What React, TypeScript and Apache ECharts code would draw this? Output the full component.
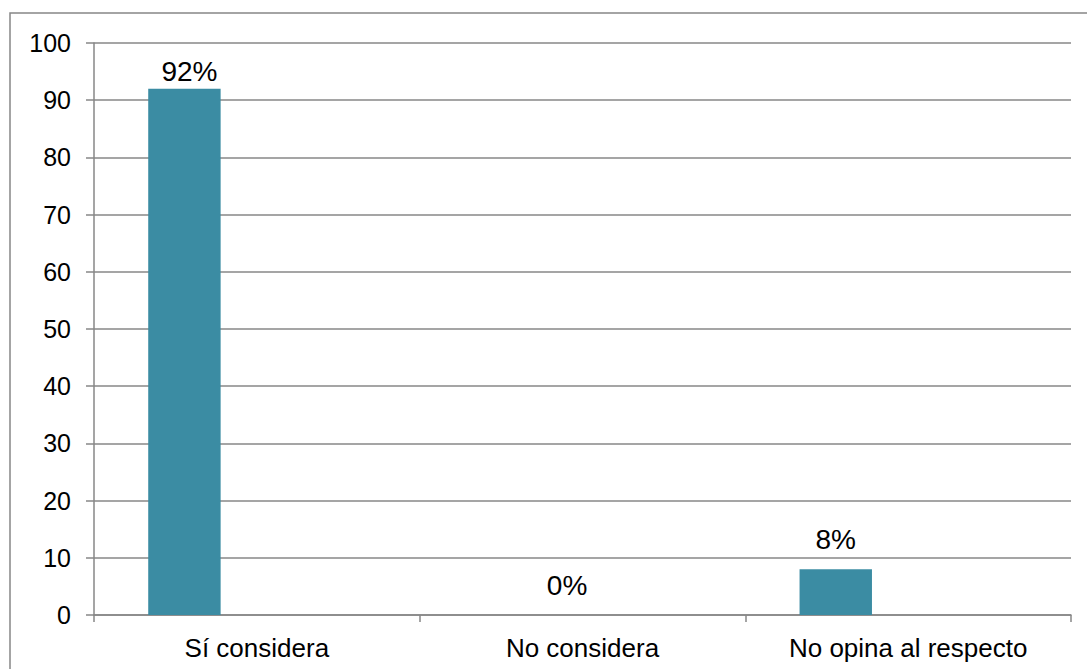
import React, { useEffect, useRef } from "react";
import * as echarts from "echarts";

const categories = ["Sí considera", "No considera", "No opina al respecto"];
const serie1 = [92, 0, 8];
const serie2: (number | null)[] = [null, null, null];
const serie3: (number | null)[] = [null, null, null];
const yTicks = { min: 0, max: 100, interval: 10 };

const FONT = "Liberation Sans, Arial, sans-serif";
const GRAY = "#878787";
const BAR = "#3B8CA3";

export default function App() {
  const ref = useRef<HTMLDivElement>(null);
  useEffect(() => {
    if (!ref.current) return;
    const chart = echarts.init(ref.current, null, { renderer: "svg" });
    const labelStyle = {
      show: true,
      position: "top" as const,
      distance: 3,
      formatter: "{c}%",
      fontSize: 28,
      fontFamily: FONT,
      color: "#000",
    };
    const labelOffsets = [
      [5, 0],
      [57, -13],
      [0, -13],
    ];
    chart.setOption({
      animation: false,
      backgroundColor: "#fff",
      graphic: [
        {
          type: "rect",
          shape: { x: 10, y: 13, width: 1200, height: 800 },
          style: { fill: "none", stroke: GRAY, lineWidth: 1.5 },
          silent: true,
        },
      ],
      grid: { left: 94, top: 43, right: 16, bottom: 54 },
      xAxis: {
        type: "category",
        data: categories,
        axisLine: { show: true, lineStyle: { color: GRAY, width: 1.5 } },
        axisTick: { show: true, length: 7, lineStyle: { color: GRAY, width: 1.5 } },
        axisLabel: { margin: 20, fontSize: 26, fontFamily: FONT, color: "#000" },
        splitLine: { show: false },
      },
      yAxis: {
        type: "value",
        min: yTicks.min,
        max: yTicks.max,
        interval: yTicks.interval,
        axisLine: { show: true, lineStyle: { color: GRAY, width: 1.5 } },
        axisTick: { show: true, length: 8, lineStyle: { color: GRAY, width: 1.5 } },
        axisLabel: { margin: 23, fontSize: 25, fontFamily: FONT, color: "#000" },
        splitLine: { show: true, lineStyle: { color: GRAY, width: 1.5 } },
      },
      series: [
        {
          name: "Serie 1",
          type: "bar",
          barGap: "0%",
          barCategoryGap: "33.3%",
          itemStyle: { color: BAR },
          label: labelStyle,
          data: serie1.map((v, i) => ({
            value: v,
            label: { ...labelStyle, offset: labelOffsets[i] },
          })),
        },
        {
          name: "Serie 2",
          type: "bar",
          barGap: "0%",
          barCategoryGap: "33.3%",
          itemStyle: { color: "#C0504D" },
          data: serie2,
        },
        {
          name: "Serie 3",
          type: "bar",
          barGap: "0%",
          barCategoryGap: "33.3%",
          itemStyle: { color: "#9BBB59" },
          data: serie3,
        },
      ],
    });
    return () => chart.dispose();
  }, []);
  return (
    <div
      ref={ref}
      style={{ position: "fixed", left: 0, top: 0, width: 1087, height: 669 }}
    />
  );
}
